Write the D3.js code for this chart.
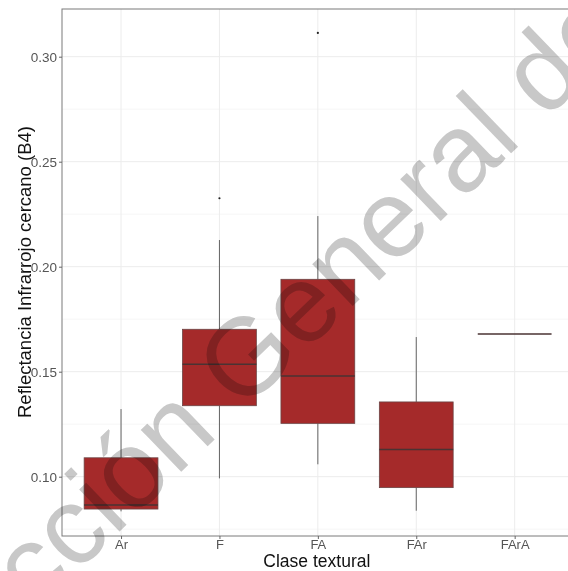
<!DOCTYPE html>
<html>
<head>
<meta charset="utf-8">
<script src="https://cdn.jsdelivr.net/npm/d3@7"></script>
<style>
  body { margin: 0; background: #fff; }
  svg { display: block; font-family: "Liberation Sans", Arial, sans-serif; }
</style>
</head>
<body>
<div id="chart"></div>
<script>
// boxplot summaries
var categories = ['Ar', 'F', 'FA', 'FAr', 'FArA'];
var lowerWhisker = [0.0835, 0.0992, 0.1059, 0.0838, 0.168];
var q1 = [0.0846, 0.1338, 0.1254, 0.0948, 0.168];
var medians = [0.0865, 0.1535, 0.1479, 0.1130, 0.168];
var q3 = [0.1090, 0.1702, 0.1940, 0.1356, 0.168];
var upperWhisker = [0.1322, 0.2127, 0.2241, 0.1665, 0.168];
var outlierCat = ['F', 'FA'];
var outlierVal = [0.2326, 0.3113];
var yTicks = [0.10, 0.15, 0.20, 0.25, 0.30];
var yMinor = [0.075, 0.125, 0.175, 0.225, 0.275];

const width = 568, height = 571;
const panel = {left: 62, right: 573.7, top: 9, bottom: 536};

const svg = d3.select('#chart').append('svg')
    .attr('width', width)
    .attr('height', height);

const x = d3.scalePoint().domain(categories).range([panel.left, panel.right]).padding(0.6);
const y = d3.scaleLinear().domain([0.10, 0.30]).range([476.7, 56.7]);
const boxW = x.step() * 0.75;

// grid
const grid = svg.append('g');
grid.selectAll('.minor').data(yMinor).enter().append('line')
    .attr('x1', panel.left).attr('x2', panel.right)
    .attr('y1', d => y(d)).attr('y2', d => y(d))
    .attr('stroke', '#f4f4f4').attr('stroke-width', 0.8);
grid.selectAll('.major').data(yTicks).enter().append('line')
    .attr('x1', panel.left).attr('x2', panel.right)
    .attr('y1', d => y(d)).attr('y2', d => y(d))
    .attr('stroke', '#ececec').attr('stroke-width', 1);
grid.selectAll('.vmajor').data(categories).enter().append('line')
    .attr('x1', d => x(d)).attr('x2', d => x(d))
    .attr('y1', panel.top).attr('y2', panel.bottom)
    .attr('stroke', '#ececec').attr('stroke-width', 1);

// boxes
const boxes = svg.append('g').selectAll('g').data(categories).enter().append('g');
boxes.append('line')
    .attr('x1', d => x(d)).attr('x2', d => x(d))
    .attr('y1', (d, i) => y(upperWhisker[i])).attr('y2', (d, i) => y(q3[i]))
    .attr('stroke', '#555').attr('stroke-width', 0.9);
boxes.append('line')
    .attr('x1', d => x(d)).attr('x2', d => x(d))
    .attr('y1', (d, i) => y(q1[i])).attr('y2', (d, i) => y(lowerWhisker[i]))
    .attr('stroke', '#555').attr('stroke-width', 0.9);
boxes.append('rect')
    .attr('x', d => x(d) - boxW / 2)
    .attr('width', boxW)
    .attr('y', (d, i) => y(q3[i]))
    .attr('height', (d, i) => Math.max(0, y(q1[i]) - y(q3[i])))
    .attr('fill', '#a52a2a')
    .attr('stroke', '#6b4444').attr('stroke-width', 0.8);
boxes.append('line')
    .attr('x1', d => x(d) - boxW / 2).attr('x2', d => x(d) + boxW / 2)
    .attr('y1', (d, i) => y(medians[i])).attr('y2', (d, i) => y(medians[i]))
    .attr('stroke', '#4a3333').attr('stroke-width', 1.5);

svg.append('g').selectAll('circle').data(outlierVal).enter().append('circle')
    .attr('cx', (d, i) => x(outlierCat[i]))
    .attr('cy', d => y(d))
    .attr('r', 1.1)
    .attr('fill', '#222');

// panel border
svg.append('rect')
    .attr('x', panel.left).attr('y', panel.top)
    .attr('width', panel.right - panel.left).attr('height', panel.bottom - panel.top)
    .attr('fill', 'none').attr('stroke', '#7a7a7a').attr('stroke-width', 1);

// axes
const yAxis = svg.append('g')
    .attr('transform', 'translate(' + panel.left + ',0)')
    .call(d3.axisLeft(y).tickValues(yTicks).tickFormat(d3.format('.2f')).tickSize(3).tickPadding(2));
const xAxis = svg.append('g')
    .attr('transform', 'translate(0,' + panel.bottom + ')')
    .call(d3.axisBottom(x).tickSize(3).tickPadding(0.5));
[yAxis, xAxis].forEach(function(a) {
    a.select('.domain').remove();
    a.selectAll('.tick line').attr('stroke', '#666');
    a.selectAll('.tick text')
        .attr('fill', '#555')
        .style('font-size', '13.5px')
        .style('font-family', '"Liberation Sans", Arial, sans-serif');
});
xAxis.selectAll('.tick text').style('font-size', '13px');

svg.append('text')
    .attr('x', (panel.left + panel.right) / 2 - 1)
    .attr('y', 566.5)
    .attr('text-anchor', 'middle')
    .style('font-size', '17.5px')
    .attr('fill', '#111')
    .text('Clase textural');

svg.append('text')
    .attr('transform', 'translate(31,' + 272 + ') rotate(-90)')
    .attr('text-anchor', 'middle')
    .style('font-size', '18.5px')
    .attr('fill', '#111')
    .text('Reflectancia Infrarrojo cercano (B4)');

// watermark
svg.append('text')
    .attr('transform', 'translate(-110,753) rotate(-44)')
    .style('font-size', '110px')
    .style('mix-blend-mode', 'multiply')
    .attr('fill', '#c8c8c8')
    .text('Dirección General de');
</script>
</body>
</html>
